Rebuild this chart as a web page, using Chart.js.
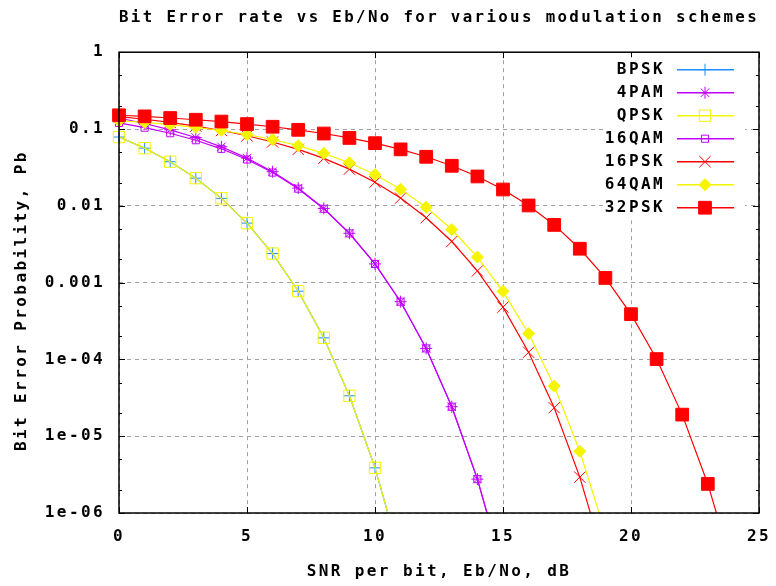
<!DOCTYPE html>
<html>
<head>
<meta charset="utf-8">
<title>Bit Error rate vs Eb/No</title>
<script src="https://cdn.jsdelivr.net/npm/chart.js@4.4.1/dist/chart.umd.min.js"></script>
<style>
  html, body { margin: 0; padding: 0; background: #fff; }
</style>
</head>
<body>
<canvas id="berChart" width="776" height="586"></canvas>
<script>
// SNR per bit in dB, one point per dB
const snrDb = [0, 1, 2, 3, 4, 5, 6, 7, 8, 9, 10, 11, 12, 13, 14, 15, 16, 17, 18, 19, 20, 21, 22, 23, 24];

const seriesNames = ['BPSK', '4PAM', 'QPSK', '16QAM', '16PSK', '64QAM', '32PSK'];

// bit error probabilities (last value of each series lies below 1e-6)
const bpsk  = [0.0786, 0.0563, 0.0375, 0.0229, 0.0125, 0.00595, 0.00239, 7.73e-4, 1.91e-4, 3.36e-5, 3.87e-6, 2.61e-7];
const pam4  = [0.139, 0.118, 0.0976, 0.0774, 0.0586, 0.0418, 0.0278, 0.0170, 0.00924, 0.00439, 0.00175, 5.64e-4, 1.39e-4, 2.42e-5, 2.76e-6, 1.84e-7];
const qpsk  = [0.0786, 0.0563, 0.0375, 0.0229, 0.0125, 0.00595, 0.00239, 7.73e-4, 1.91e-4, 3.36e-5, 3.87e-6, 2.61e-7];
const qam16 = [0.120, 0.104, 0.0881, 0.0714, 0.0552, 0.0401, 0.0271, 0.0167, 0.00915, 0.00437, 0.00175, 5.64e-4, 1.39e-4, 2.42e-5, 2.76e-6, 1.84e-7];
const psk16 = [0.145, 0.134, 0.122, 0.109, 0.0955, 0.0816, 0.0677, 0.0542, 0.0414, 0.0300, 0.0203, 0.0126, 0.0070, 0.00343, 0.00142, 4.79e-4, 1.24e-4, 2.35e-5, 2.93e-6, 2.19e-7];
const qam64 = [0.128, 0.122, 0.114, 0.105, 0.0956, 0.0848, 0.0730, 0.0607, 0.0482, 0.0363, 0.0255, 0.0164, 0.00958, 0.00491, 0.00215, 7.69e-4, 2.17e-4, 4.50e-5, 6.36e-6, 5.5e-7];
const psk32 = [0.151, 0.146, 0.139, 0.132, 0.125, 0.116, 0.107, 0.0976, 0.0873, 0.0765, 0.0654, 0.0543, 0.0435, 0.0332, 0.0241, 0.0163, 0.0101, 0.00564, 0.00276, 0.00115, 3.88e-4, 1.01e-4, 1.91e-5, 2.39e-6, 1.8e-7];

const xTicks = [0, 5, 10, 15, 20, 25];
const yTicks = [1e-6, 1e-5, 1e-4, 0.001, 0.01, 0.1, 1];
const yTickLabels = ['1e-06', '1e-05', '1e-04', '0.001', '0.01', '0.1', '1'];

// look of each series (gnuplot style)
const seriesColors  = ['#1e90ff', '#c000ff', '#f5f500', '#c000ff', '#ff0000', '#f5f500', '#ff0000'];
const seriesMarkers = ['cross', 'star', 'rect', 'rect', 'crossRot', 'rectRot', 'rect'];
const markerSizes   = [6, 6, 8, 5, 8, 6, 9];
const markerFilled  = [false, false, false, false, false, true, true];

const allSeries = [bpsk, pam4, qpsk, qam16, psk16, qam64, psk32];

const FONT = { family: 'DejaVu Sans Mono', size: 16, weight: 'bold' };
const FONT_CSS = 'bold 16px "DejaVu Sans Mono"';
const SPACING = '2.4px';

const spacing = {
  id: 'spacing',
  beforeLayout(chart) { chart.ctx.letterSpacing = SPACING; },
  beforeDraw(chart) { chart.ctx.letterSpacing = SPACING; }
};

// frame with inward ticks, like gnuplot's border
const frame = {
  id: 'frame',
  afterDatasetsDraw(chart) {
    const { ctx, chartArea: a, scales: { x, y } } = chart;
    ctx.save();
    ctx.strokeStyle = '#000';
    ctx.lineWidth = 1;
    ctx.beginPath();
    xTicks.forEach(v => {
      const px = Math.round(x.getPixelForValue(v)) + 0.5;
      ctx.moveTo(px, a.bottom); ctx.lineTo(px, a.bottom - 6);
      ctx.moveTo(px, a.top); ctx.lineTo(px, a.top + 6);
    });
    yTicks.forEach(v => {
      [1, 2, 5].forEach(m => {
        const val = v * m;
        if (val > 1) return;
        const py = Math.round(y.getPixelForValue(val)) + 0.5;
        const len = m === 1 ? 6 : 3;
        ctx.moveTo(a.left, py); ctx.lineTo(a.left + len, py);
        ctx.moveTo(a.right, py); ctx.lineTo(a.right - len, py);
      });
    });
    ctx.stroke();
    ctx.lineWidth = 1.5;
    ctx.strokeRect(a.left, a.top, a.right - a.left, a.bottom - a.top);
    ctx.restore();
  }
};

// key in the top right corner: label, then line sample with marker
const key = {
  id: 'key',
  afterDraw(chart) {
    const { ctx, chartArea: a } = chart;
    ctx.save();
    ctx.letterSpacing = SPACING;
    ctx.fillStyle = '#fff';
    ctx.fillRect(a.right - 156, a.top + 5, 142, 163);
    chart.data.datasets.forEach((ds, i) => {
      const yy = a.top + 17 + i * 23;
      ctx.fillStyle = '#000';
      ctx.font = FONT_CSS;
      ctx.textAlign = 'right';
      ctx.textBaseline = 'middle';
      ctx.fillText(ds.label, a.right - 94, yy + 1);
      ctx.strokeStyle = ds.borderColor;
      ctx.lineWidth = 1.5;
      ctx.beginPath();
      ctx.moveTo(a.right - 82, yy + 0.5);
      ctx.lineTo(a.right - 25, yy + 0.5);
      ctx.stroke();
      ctx.lineWidth = 1;
      ctx.fillStyle = ds.pointBackgroundColor;
      Chart.helpers.drawPoint(ctx, {
        pointStyle: ds.pointStyle, radius: ds.pointRadius, rotation: 0, borderWidth: 1
      }, a.right - 54, yy + 0.5);
    });
    ctx.restore();
  }
};

const datasets = seriesNames.map((name, i) => ({
  label: name,
  data: allSeries[i].map((v, j) => ({ x: snrDb[j], y: v })),
  borderColor: seriesColors[i],
  backgroundColor: seriesColors[i],
  pointBackgroundColor: markerFilled[i] ? seriesColors[i] : 'rgba(0,0,0,0)',
  pointBorderColor: seriesColors[i],
  pointStyle: seriesMarkers[i],
  pointRadius: markerSizes[i],
  pointBorderWidth: 1,
  borderWidth: 1.2,
  tension: 0,
  order: seriesNames.length - i,
  clip: { left: 12, top: 12, right: 12, bottom: 0 }
}));

new Chart(document.getElementById('berChart'), {
  type: 'line',
  data: { datasets },
  plugins: [spacing, frame, key],
  options: {
    responsive: false,
    animation: false,
    devicePixelRatio: 1,
    layout: { padding: { left: 0, right: 17, top: 0, bottom: 0 } },
    plugins: {
      legend: { display: false },
      tooltip: { enabled: false },
      title: {
        display: true,
        text: 'Bit Error rate vs Eb/No for various modulation schemes',
        font: FONT,
        color: '#000',
        fullSize: false,
        padding: { top: 8, bottom: 25 }
      }
    },
    scales: {
      x: {
        type: 'linear',
        min: 0,
        max: 25,
        ticks: { stepSize: 5, padding: 14, font: FONT, color: '#000' },
        grid: { color: '#a0a0a0', drawTicks: false },
        border: { display: false, dash: [4, 4] },
        title: { display: true, text: 'SNR per bit, Eb/No, dB', font: FONT, color: '#000', padding: { top: 0, bottom: 5 } },
        afterFit: s => { s.height = 73; s.paddingLeft = 0; s.paddingRight = 0; }
      },
      y: {
        type: 'logarithmic',
        min: 1e-6,
        max: 1,
        afterBuildTicks: s => { s.ticks = yTicks.map(v => ({ value: v })); },
        ticks: { callback: (v, i) => yTickLabels[i], padding: 14, autoSkip: false, font: FONT, color: '#000' },
        grid: { color: '#a0a0a0', drawTicks: false },
        border: { display: false, dash: [4, 4] },
        title: { display: true, text: 'Bit Error Probability, Pb   ', font: FONT, color: '#000', padding: { top: 12, bottom: 0 } },
        afterFit: s => { s.width = 119; s.paddingTop = 0; s.paddingBottom = 0; }
      }
    }
  }
});
</script>
</body>
</html>
